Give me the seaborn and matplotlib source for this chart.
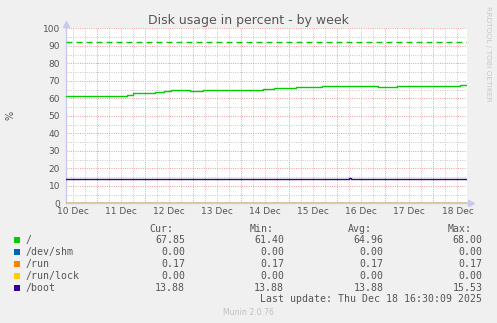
import matplotlib
matplotlib.use("Agg")
import matplotlib.pyplot as plt
import numpy as np
import pandas as pd
import seaborn as sns
from matplotlib.ticker import MultipleLocator, FuncFormatter, NullFormatter
from matplotlib.patches import Rectangle

# ---------------- data ----------------
mounts = ["/", "/dev/shm", "/run", "/run/lock", "/boot"]
colors = ["#00CC00", "#0066B3", "#FF8000", "#FFCC00", "#330099"]

# time in days since 10 Dec 00:00
root_days = [0.362, 1.62, 1.76, 2.21, 2.40, 2.54, 2.94, 3.20, 4.46, 4.69,
             5.14, 5.68, 6.85, 7.24, 7.68, 8.15, 8.55, 8.692]
root_vals = [61.40, 62.0, 62.8, 63.4, 64.0, 64.5, 64.0, 64.6, 65.3, 65.7,
             66.3, 66.8, 66.4, 66.8, 67.1, 67.3, 67.85, 67.85]
shm_days = [0.362, 8.692]
shm_vals = [0.00, 0.00]
run_days = [0.362, 8.692]
run_vals = [0.17, 0.17]
lock_days = [0.362, 8.692]
lock_vals = [0.00, 0.00]
boot_days = [0.362, 6.25, 6.29, 8.692]
boot_vals = [13.88, 14.3, 13.88, 13.88]

warning_level = 92

day_labels = ["10 Dec", "11 Dec", "12 Dec", "13 Dec", "14 Dec",
              "15 Dec", "16 Dec", "17 Dec", "18 Dec"]

cur_vals = [67.85, 0.00, 0.17, 0.00, 13.88]
min_vals = [61.40, 0.00, 0.17, 0.00, 13.88]
avg_vals = [64.96, 0.00, 0.17, 0.00, 13.88]
max_vals = [68.00, 0.00, 0.17, 0.00, 15.53]

title = "Disk usage in percent - by week"
last_update = "Last update: Thu Dec 18 16:30:09 2025"

# ---------------- figure ----------------
W, H = 497, 323
fig = plt.figure(figsize=(W / 100, H / 100), dpi=100, facecolor="#F0F0F0")

def fx(x):
    return x / W

def fy(y):
    return 1 - y / H

ax = fig.add_axes([fx(66), fy(203.3), 400.7 / W, 175 / H])
ax.set_facecolor("white")

frames = []
for name, d, v in zip(mounts, [root_days, shm_days, run_days, lock_days, boot_days],
                      [root_vals, shm_vals, run_vals, lock_vals, boot_vals]):
    frames.append(pd.DataFrame({"day": d, "value": v, "mount": name}))
df = pd.concat(frames, ignore_index=True)

sns.lineplot(data=df, x="day", y="value", hue="mount", hue_order=mounts,
             palette=dict(zip(mounts, colors)), drawstyle="steps-post",
             lw=1.0, legend=False, ax=ax, estimator=None, sort=True)
for ln in ax.lines:
    ln.set_zorder(3)

matplotlib.rcParams["lines.scale_dashes"] = False
wl = ax.axhline(warning_level, color="#00CC00", lw=1.0, zorder=3)
wl.set_dashes((4.3, 2.9))

ax.set_xlim(0.362, 8.692)
ax.set_ylim(0, 100)

# grid
ax.xaxis.set_major_locator(MultipleLocator(1))
ax.xaxis.set_minor_locator(MultipleLocator(0.25))
ax.yaxis.set_major_locator(MultipleLocator(10))
ax.yaxis.set_minor_locator(MultipleLocator(5))
ax.set_axisbelow(True)
ax.grid(which="major", color="#f0a0a0", linestyle=(0, (0.72, 0.9)), lw=0.72)
ax.grid(which="minor", color="#cccccc", linestyle=(0, (0.72, 0.9)), lw=0.72)

def xminor_fmt(v, pos):
    frac = v - np.floor(v)
    if abs(frac - 0.5) < 1e-6:
        i = int(np.floor(v))
        if 0 <= i < len(day_labels):
            return day_labels[i]
    return ""

ax.xaxis.set_major_formatter(NullFormatter())
ax.xaxis.set_minor_formatter(FuncFormatter(xminor_fmt))
ax.yaxis.set_minor_formatter(NullFormatter())
ax.tick_params(axis="both", which="both", length=0)
ax.tick_params(axis="x", which="minor", labelsize=6.5, pad=2.4, labelcolor="#555555")
ax.tick_params(axis="y", which="major", labelsize=6.5, pad=4.3, labelcolor="#555555")

ax.set_xlabel("")
ax.set_ylabel("")
for s in ["top", "right"]:
    ax.spines[s].set_visible(False)
for s in ["left", "bottom"]:
    ax.spines[s].set_color("#c8c8f0")
    ax.spines[s].set_linewidth(1.0)

# axis arrows
ax.plot([0], [1.026], marker="^", ms=4, color="#c8c8f0", transform=ax.transAxes,
        clip_on=False, zorder=4)
ax.plot([1.010], [0], marker=">", ms=4, color="#c8c8f0", transform=ax.transAxes,
        clip_on=False, zorder=4)

# texts
fig.text(fx(248.3), fy(24), title, ha="center", va="baseline", fontsize=9,
         color="#555555")
fig.text(fx(10), fy(115.5), "%", ha="center", va="center", rotation=90,
         fontsize=7, color="#555555")
fig.text(fx(488), fy(53.4), "RRDTOOL / TOBI OETIKER", ha="center", va="center",
         rotation=270, fontsize=5.4, color="#c8c8c8")
fig.text(fx(248.7), fy(315), "Munin 2.0.76", ha="center", va="baseline",
         fontsize=5.6, color="#c0c0c0")

# legend
mono = dict(family="DejaVu Sans Mono", fontsize=7.1, color="#555555")
headers = ["Cur:", "Min:", "Avg:", "Max:"]
head_x = [149.3, 249.5, 348.3, 447.3]
val_x = [185, 284, 383.3, 482.3]
for h, hx in zip(headers, head_x):
    fig.text(fx(hx), fy(231.7), h, ha="left", va="baseline", **mono)

row_base = [243, 255, 267, 279, 291]
for i, name in enumerate(mounts):
    yb = row_base[i]
    fig.add_artist(Rectangle((fx(14), fy(yb)), 6 / W, 6 / H,
                             transform=fig.transFigure, color=colors[i], lw=0))
    fig.text(fx(26), fy(yb), name, ha="left", va="baseline", **mono)
    for col, vx in zip([cur_vals, min_vals, avg_vals, max_vals], val_x):
        fig.text(fx(vx), fy(yb), f"{col[i]:.2f}", ha="right", va="baseline", **mono)

fig.text(fx(482.3), fy(302.3), last_update, ha="right", va="baseline", **mono)

fig.savefig("out.png", dpi=100, facecolor=fig.get_facecolor())
